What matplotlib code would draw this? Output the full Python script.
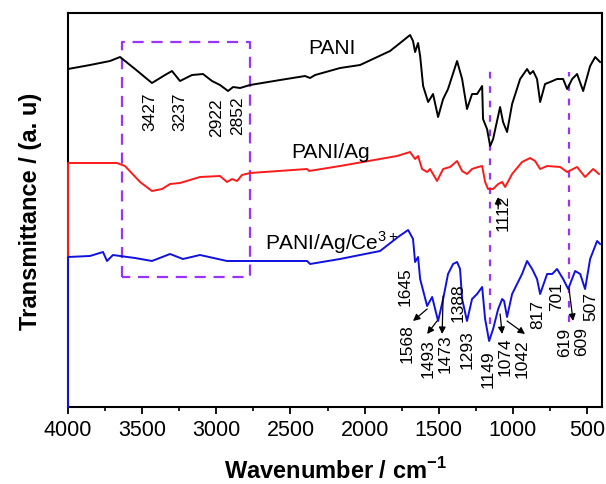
import numpy as np
import matplotlib
matplotlib.use('Agg')
import matplotlib.pyplot as plt
from matplotlib.ticker import MultipleLocator

plt.rcParams['font.family'] = ['Liberation Sans', 'DejaVu Sans']
plt.rcParams['mathtext.fontset'] = 'custom'
plt.rcParams['mathtext.rm'] = 'Liberation Sans'
plt.rcParams['mathtext.bf'] = 'Liberation Sans:bold'

# FTIR spectra (wavenumber, transmittance a.u.)
pani_wn = [4000, 4000, 3852, 3717, 3649, 3548, 3434, 3346, 3299, 3245, 3164, 3090, 3029, 2975,
           2921, 2887, 2840, 2773, 2570, 2402, 2368, 2334, 2166, 2031, 1829, 1761, 1694, 1674,
           1660, 1640, 1626, 1606, 1572, 1539, 1505, 1471, 1438, 1377, 1343, 1310, 1276, 1242,
           1208, 1202, 1175, 1154, 1134, 1087, 1067, 1040, 1006, 952, 905, 885, 864, 838, 817,
           784, 750, 703, 662, 635, 601, 568, 527, 480, 446, 413]
pani_t = [0, 338, 342, 346, 350, 338, 324, 332, 336, 326, 332, 333, 326, 322,
          316, 320, 319, 322, 327, 331, 329, 332, 339, 342, 356, 364, 372, 366,
          355, 364, 351, 321, 305, 313, 290, 308, 318, 346, 328, 298, 313, 313,
          321, 288, 278, 261, 268, 300, 285, 275, 303, 328, 338, 333, 336, 328, 305,
          323, 325, 328, 328, 318, 328, 333, 316, 341, 350, 345]

ag_wn = [4000, 4000, 3670, 3616, 3514, 3434, 3366, 3312, 3245, 3110, 2975, 2928, 2894, 2860,
         2827, 2773, 2388, 2375, 2166, 1782, 1694, 1660, 1640, 1613, 1579, 1559, 1512, 1471,
         1424, 1377, 1343, 1310, 1276, 1235, 1208, 1188, 1168, 1134, 1100, 1073, 1053, 1006,
         939, 885, 851, 817, 770, 682, 635, 568, 514, 460, 420]
ag_t = [0, 244, 244, 241, 225, 216, 218, 223, 224, 230, 231, 225, 228, 226,
        232, 234, 238, 236, 241, 251, 255, 248, 251, 238, 235, 238, 226, 238,
        240, 246, 236, 233, 238, 240, 241, 225, 218, 218, 223, 225, 220, 233,
        245, 249, 246, 238, 241, 240, 235, 240, 230, 238, 233]

ce_wn = [4000, 4000, 3852, 3764, 3737, 3697, 3649, 3548, 3434, 3312, 3225, 3110, 2928, 2773,
         2388, 2368, 2166, 1896, 1775, 1707, 1674, 1660, 1640, 1626, 1579, 1545, 1505, 1471,
         1438, 1404, 1377, 1357, 1343, 1310, 1276, 1242, 1208, 1188, 1161, 1134, 1100, 1073,
         1060, 1040, 1006, 939, 905, 871, 838, 817, 770, 736, 703, 662, 628, 581, 547, 514,
         480, 433, 413]
ce_t = [0, 150, 151, 155, 146, 152, 151, 149, 146, 153, 148, 152, 146, 146,
        146, 143, 148, 156, 170, 177, 168, 145, 150, 128, 101, 110, 86, 108,
        133, 143, 145, 138, 108, 86, 108, 113, 120, 88, 66, 78, 98, 108,
        106, 90, 113, 133, 146, 138, 128, 113, 133, 133, 138, 128, 118, 136, 133, 118,
        148, 166, 163]

series_names = ['PANI', 'PANI/Ag', 'PANI/Ag/Ce$^{3+}$']
series_colors = ['black', '#ff1a1a', '#1010e0']
name_pos = [(2220, 360), (2233, 256), (2220, 165)]

# peak labels: text, (x, y) centre
peak_labels = [('3427', 3447, 296), ('3237', 3245, 296), ('2922', 2995, 290), ('2852', 2854, 292),
               ('1112', 1067, 195),
               ('1645', 1728, 121), ('1568', 1714, 64), ('1493', 1573, 49), ('1473', 1458, 54),
               ('1388', 1370, 105), ('1293', 1310, 58), ('1149', 1168, 39), ('1074', 1056, 51),
               ('1042', 936, 49), ('817', 831, 93), ('701', 703, 111), ('619', 652, 66),
               ('609', 540, 66), ('507', 478, 101)]
# arrows: tail (on curve) -> head (at label)
arrows = [((1579, 98), (1674, 86)), ((1512, 86), (1579, 73)), ((1471, 111), (1478, 73)),
          ((1087, 93), (1073, 73)), ((1040, 86), (919, 73)), ((622, 118), (595, 86)),
          ((1100, 198), (1100, 210))]

fig = plt.figure(figsize=(6.06, 4.85), dpi=100)
ax = fig.add_axes([0.1122, 0.1588, 0.8812, 0.8123])

for wn, t, c in zip([pani_wn, ag_wn, ce_wn], [pani_t, ag_t, ce_t], series_colors):
    ax.plot(wn, t, color=c, lw=1.4, clip_on=False, zorder=3)

for name, (x, y) in zip(series_names, name_pos):
    ax.text(x, y, name, fontsize=15, ha='center', va='center')

for txt, x, y in peak_labels:
    ax.text(x, y, txt, fontsize=12.5, rotation=90, ha='center', va='center')

for tail, head in arrows:
    ax.annotate('', xy=head, xytext=tail,
                arrowprops=dict(arrowstyle='-|>', color='black', lw=0.9,
                                mutation_scale=10, shrinkA=0, shrinkB=0))

# dashed guides
purple = '#9933ff'
ax.plot([3636, 3636, 2773, 2773, 3636], [130, 365, 365, 130, 130],
        color=purple, lw=1.6, ls=(0, (5, 3.5)), zorder=2)
ax.plot([1155, 1155], [83, 340], color=purple, lw=1.6, ls=(0, (3, 3.5)), zorder=2)
ax.plot([625, 625], [85, 335], color=purple, lw=1.6, ls=(0, (3, 3.5)), zorder=2)

ax.set_xlim(4000, 400)
ax.set_ylim(0, 394)
ax.xaxis.set_major_locator(MultipleLocator(500))
ax.xaxis.set_minor_locator(MultipleLocator(250))
ax.set_yticks([])
ax.tick_params(axis='x', which='major', direction='out', length=5, width=1.3,
               labelsize=15.5, pad=4)
ax.tick_params(axis='x', which='minor', direction='out', length=3, width=1.2)
for s in ax.spines.values():
    s.set_linewidth(1.5)

ax.set_xlabel(r'Wavenumber / cm$^{\mathbf{-1}}$', fontsize=17, fontweight='bold', labelpad=12)
ax.set_ylabel('Transmittance / (a. u)', fontsize=17, fontweight='bold', labelpad=19)

fig.savefig('out.png', dpi=100)
